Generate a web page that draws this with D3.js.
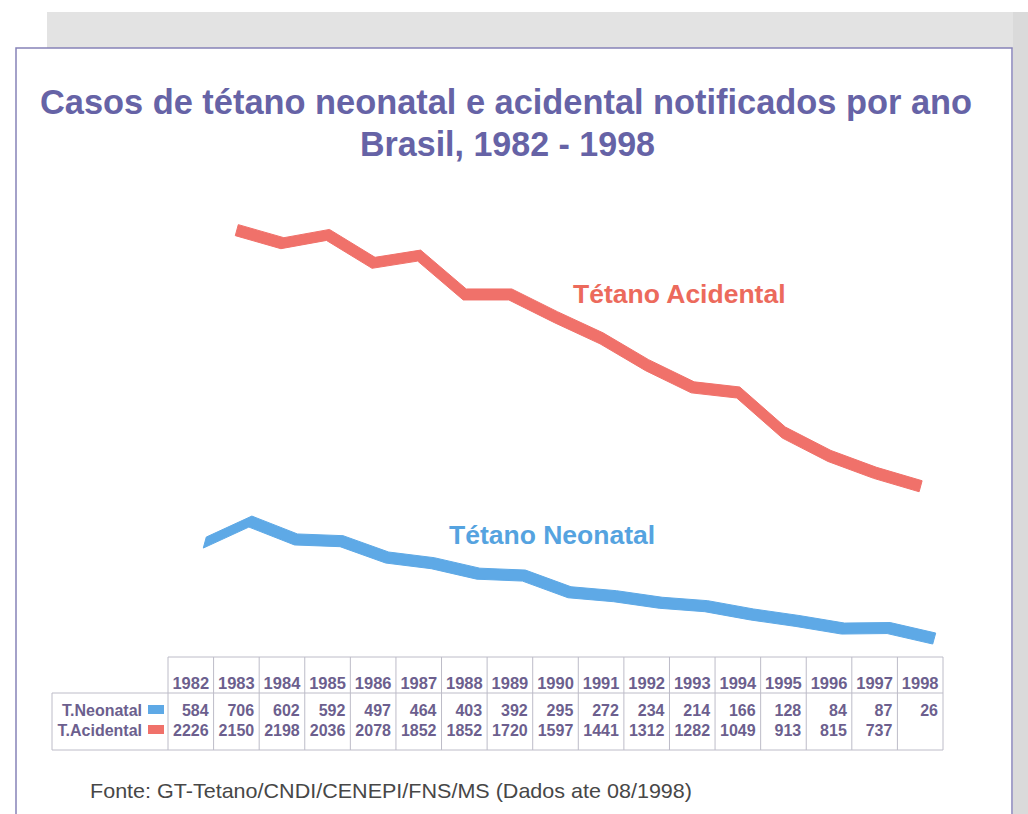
<!DOCTYPE html>
<html>
<head>
<meta charset="utf-8">
<script src="https://cdn.jsdelivr.net/npm/d3@7"></script>
<style>
  html, body { margin: 0; padding: 0; background: #fff; }
  svg { display: block; font-family: "Liberation Sans", Arial, sans-serif; }
</style>
</head>
<body>
<svg id="chart" width="1028" height="814"></svg>
<script>
// ---------------------------------------------------------------------------
// Data
// ---------------------------------------------------------------------------
const years = [1982, 1983, 1984, 1985, 1986, 1987, 1988, 1989, 1990,
  1991, 1992, 1993, 1994, 1995, 1996, 1997, 1998];
const neonatal = [584, 706, 602, 592, 497, 464, 403, 392, 295,
  272, 234, 214, 166, 128, 84, 87, 26];
const acidental = [2226, 2150, 2198, 2036, 2078, 1852, 1852, 1720, 1597,
  1441, 1312, 1282, 1049, 913, 815, 737, null];
const seriesNames = ["T.Neonatal", "T.Acidental"];
const seriesLabels = ["Tétano Neonatal", "Tétano Acidental"];

const titleLines = [
  "Casos de tétano neonatal e acidental notificados por ano",
  "Brasil, 1982 - 1998",
];
const sourceNote = "Fonte: GT-Tetano/CNDI/CENEPI/FNS/MS (Dados ate 08/1998)";

// ---------------------------------------------------------------------------
// Styles
// ---------------------------------------------------------------------------
const LINE_COLORS = ["#5ea9e6", "#f0716a"];
const LABEL_COLORS = ["#55a3e0", "#ec6a5c"];
const TITLE_COLOR = "#6663a6";
const TABLE_TEXT = "#6c5f8e";
const GRID = "#bdbcc8";

const svg = d3.select("#chart");

// scanned page backdrop
svg.append("rect").attr("x", 47).attr("y", 12).attr("width", 981).attr("height", 37)
  .attr("fill", "#e3e3e3");
svg.append("rect").attr("x", 1013).attr("y", 12).attr("width", 15).attr("height", 802)
  .attr("fill", "#dadada");
svg.append("rect").attr("x", 16).attr("y", 48).attr("width", 996).attr("height", 800)
  .attr("fill", "#fff").attr("stroke", "#8682b8").attr("stroke-width", 1.5);

// ---------------------------------------------------------------------------
// Title (condensed face in the scan, so fit to measured width)
// ---------------------------------------------------------------------------
svg.append("text")
  .attr("x", 40).attr("y", 114)
  .attr("textLength", 932).attr("lengthAdjust", "spacingAndGlyphs")
  .attr("font-size", 35).attr("font-weight", "bold").attr("fill", TITLE_COLOR)
  .text(titleLines[0]);
svg.append("text")
  .attr("x", 360).attr("y", 156)
  .attr("textLength", 295).attr("lengthAdjust", "spacingAndGlyphs")
  .attr("font-size", 35).attr("font-weight", "bold").attr("fill", TITLE_COLOR)
  .text(titleLines[1]);

// ---------------------------------------------------------------------------
// Scales
// ---------------------------------------------------------------------------
const x = d3.scaleBand().domain(years).range([168, 943]);
const y = d3.scaleLinear().domain([0, 2500]).range([643, 213]);

// 3D depth offset per series (front: neonatal, back: acidental)
const depth = [{ dx: 14, dy: 0 }, { dx: 46, dy: -30 }];
const HALF = 5.5;

[neonatal, acidental].forEach((vals, i) => {
  const pts = years.map((yr, j) => ({ yr, v: vals[j] })).filter((d) => d.v != null);
  const off = depth[i];
  const cx = (d) => x(d.yr) + x.bandwidth() / 2 + off.dx;
  const ribbon = d3.area()
    .x0((d) => cx(d) - 1.5)
    .x1((d) => cx(d) + 1.5)
    .y0((d) => y(d.v) + off.dy + HALF)
    .y1((d) => y(d.v) + off.dy - HALF);
  svg.append("path")
    .attr("d", ribbon(pts))
    .attr("fill", LINE_COLORS[i])
    .attr("stroke", LINE_COLORS[i])
    .attr("stroke-width", 1)
    .attr("stroke-linejoin", "round");
});

// series labels
svg.append("text").attr("x", 573).attr("y", 303)
  .attr("font-size", 26.5).attr("font-weight", "bold").attr("fill", LABEL_COLORS[1])
  .text(seriesLabels[1]);
svg.append("text").attr("x", 449).attr("y", 544)
  .attr("font-size", 26.5).attr("font-weight", "bold").attr("fill", LABEL_COLORS[0])
  .text(seriesLabels[0]);

// ---------------------------------------------------------------------------
// Data table
// ---------------------------------------------------------------------------
const TOP = 657, HEAD = 693, BOTTOM = 750, LABEL_LEFT = 52;
const table = svg.append("g").attr("fill", "none").attr("stroke", GRID).attr("stroke-width", 1);

table.append("line").attr("x1", x.range()[0]).attr("x2", x.range()[1])
  .attr("y1", TOP).attr("y2", TOP);
table.append("line").attr("x1", LABEL_LEFT).attr("x2", x.range()[1])
  .attr("y1", HEAD).attr("y2", HEAD);
table.append("line").attr("x1", LABEL_LEFT).attr("x2", x.range()[1])
  .attr("y1", BOTTOM).attr("y2", BOTTOM);
table.append("line").attr("x1", LABEL_LEFT).attr("x2", LABEL_LEFT)
  .attr("y1", HEAD).attr("y2", BOTTOM);
years.concat([null]).forEach((yr) => {
  const xx = yr == null ? x.range()[1] : x(yr);
  table.append("line").attr("x1", xx).attr("x2", xx).attr("y1", TOP).attr("y2", BOTTOM);
});

const txt = svg.append("g").attr("fill", TABLE_TEXT).attr("font-weight", "bold");

txt.selectAll("text.year").data(years).join("text")
  .attr("class", "year")
  .attr("x", (d) => x(d) + x.bandwidth() / 2)
  .attr("y", 689)
  .attr("text-anchor", "middle")
  .attr("font-size", 16.5)
  .text((d) => d);

const rowY = [716, 736];
[neonatal, acidental].forEach((vals, i) => {
  txt.selectAll("text.v" + i).data(years.map((yr, j) => ({ yr, v: vals[j] })).filter((d) => d.v != null))
    .join("text")
    .attr("class", "v" + i)
    .attr("x", (d) => x(d.yr) + x.bandwidth() - 5)
    .attr("y", rowY[i])
    .attr("text-anchor", "end")
    .attr("font-size", 16)
    .text((d) => d.v);

  txt.append("text")
    .attr("x", 142).attr("y", rowY[i])
    .attr("text-anchor", "end")
    .attr("font-size", 16)
    .text(seriesNames[i]);

  svg.append("rect")
    .attr("x", 148).attr("y", rowY[i] - 11)
    .attr("width", 16).attr("height", 9)
    .attr("fill", LINE_COLORS[i]);
});

// ---------------------------------------------------------------------------
// Source note
// ---------------------------------------------------------------------------
svg.append("text")
  .attr("x", 90).attr("y", 798)
  .attr("textLength", 602).attr("lengthAdjust", "spacingAndGlyphs")
  .attr("font-size", 21).attr("fill", "#474747")
  .text(sourceNote);
</script>
</body>
</html>
